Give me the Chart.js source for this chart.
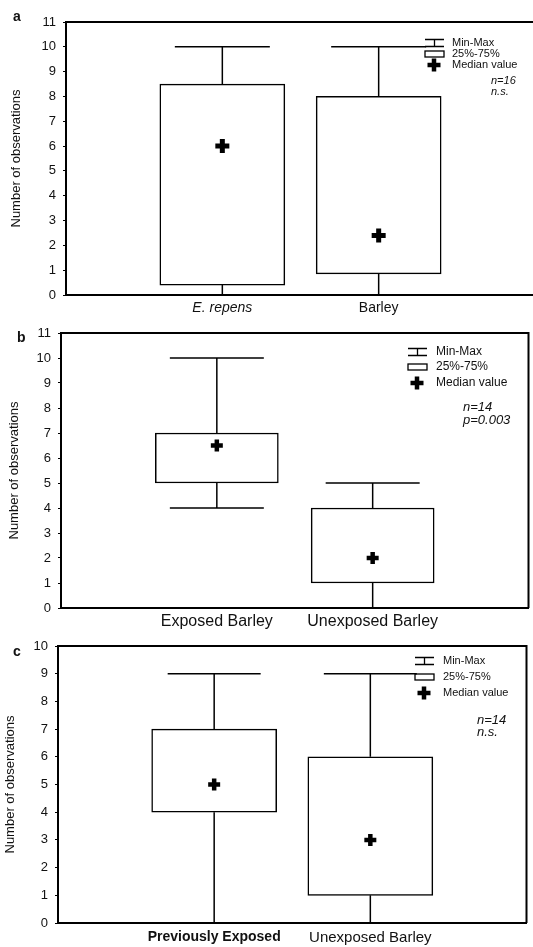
<!DOCTYPE html>
<html>
<head>
<meta charset="utf-8">
<script src="https://cdn.jsdelivr.net/npm/chart.js@4.4.0/dist/chart.umd.min.js"></script>
<style>
html, body { margin: 0; padding: 0; background: #fff; overflow: hidden; width: 533px; height: 947px; }
canvas { position: absolute; left: 0; }
</style>
</head>
<body>
<canvas id="ca" width="547" height="320" style="top:0px"></canvas>
<canvas id="cb" width="539" height="320" style="top:310px"></canvas>
<canvas id="cc" width="537" height="317" style="top:630px"></canvas>
<script>
// panel a
var catsA = ['E. repens', 'Barley']
var minA = [0, 0], q1A = [0.4, 0.85], medA = [6, 2.4], q3A = [8.5, 8], maxA = [10, 10]
var yMaxA = 11
var statsA = ['n=16', 'n.s.']
// panel b
var catsB = ['Exposed Barley', 'Unexposed Barley']
var minB = [4, 0], q1B = [5, 1], medB = [6.5, 2], q3B = [7, 4], maxB = [10, 5]
var yMaxB = 11
var statsB = ['n=14', 'p=0.003']
// panel c
var catsC = ['Previously Exposed', 'Unexposed Barley']
var minC = [0, 0], q1C = [4, 1], medC = [5, 3], q3C = [7, 6], maxC = [9, 9]
var yMaxC = 10
var statsC = ['n=14', 'n.s.']

var legendLabels = ['Min-Max', '25%-75%', 'Median value']
var yTitle = 'Number of observations'
var FONT = "'Liberation Sans', Arial, sans-serif"

// whiskers, frame, legend and panel letter
var boxExtras = {
  id: 'boxExtras',
  afterDatasetsDraw(chart) {
    var o = chart.options.plugins.boxExtras
    var ctx = chart.ctx, x = chart.scales.x, y = chart.scales.y, a = chart.chartArea
    ctx.save()
    ctx.strokeStyle = '#000'
    ctx.lineWidth = 1.5
    for (var i = 0; i < o.min.length; i++) {
      var xp = x.getPixelForValue(i + 1)
      var h = o.cap / 2
      ctx.beginPath()
      ctx.moveTo(xp, y.getPixelForValue(o.min[i])); ctx.lineTo(xp, y.getPixelForValue(o.q1[i]))
      ctx.moveTo(xp, y.getPixelForValue(o.q3[i])); ctx.lineTo(xp, y.getPixelForValue(o.max[i]))
      ctx.moveTo(xp - h, y.getPixelForValue(o.max[i])); ctx.lineTo(xp + h, y.getPixelForValue(o.max[i]))
      ctx.moveTo(xp - h, y.getPixelForValue(o.min[i])); ctx.lineTo(xp + h, y.getPixelForValue(o.min[i]))
      ctx.stroke()
    }
    // top and right border of the frame
    ctx.lineWidth = 2
    ctx.beginPath()
    ctx.moveTo(a.left, a.top); ctx.lineTo(a.right, a.top); ctx.lineTo(a.right, a.bottom)
    ctx.stroke()

    // legend
    var L = o.legend
    ctx.lineWidth = 1.3
    var r = L.rows
    ctx.beginPath()
    ctx.moveTo(L.ix, r[0] - 3.5); ctx.lineTo(L.ix + 19, r[0] - 3.5)
    ctx.moveTo(L.ix, r[0] + 3.5); ctx.lineTo(L.ix + 19, r[0] + 3.5)
    ctx.moveTo(L.ix + 9.5, r[0] - 3.5); ctx.lineTo(L.ix + 9.5, r[0] + 3.5)
    ctx.stroke()
    ctx.strokeRect(L.ix, r[1] - 3, 19, 6)
    ctx.lineWidth = 4.5
    ctx.beginPath()
    ctx.moveTo(L.px - 6.5, r[2]); ctx.lineTo(L.px + 6.5, r[2])
    ctx.moveTo(L.px, r[2] - 6.5); ctx.lineTo(L.px, r[2] + 6.5)
    ctx.stroke()
    ctx.fillStyle = '#111'
    ctx.textBaseline = 'middle'
    ctx.textAlign = 'left'
    ctx.font = L.size + 'px ' + FONT
    legendLabels.forEach(function (t, k) { ctx.fillText(t, L.tx, r[k]) })
    ctx.font = 'italic ' + L.ssize + 'px ' + FONT
    o.stats.forEach(function (t, k) { ctx.fillText(t, L.sx, L.sy[k]) })
    ctx.font = 'bold 14px ' + FONT
    ctx.fillText(o.letter[0], o.letter[1], o.letter[2])
    ctx.restore()
  }
}

function boxChart(id, cats, mins, q1, med, q3, maxs, yMax, stats, g) {
  var boxes = cats.map(function (c, i) { return { x: i + 1, y: [q1[i], q3[i]] } })
  var medians = cats.map(function (c, i) { return { x: i + 1, y: med[i] } })
  return new Chart(document.getElementById(id), {
    type: 'bar',
    data: {
      datasets: [{
        order: 2,
        data: boxes,
        backgroundColor: '#fff',
        borderColor: '#000',
        borderWidth: 1.5,
        borderSkipped: false,
        barThickness: g.box
      }, {
        order: 1,
        type: 'scatter',
        data: medians,
        pointStyle: 'cross',
        radius: g.plus,
        borderWidth: g.plusW,
        borderColor: '#000',
        backgroundColor: '#000'
      }]
    },
    options: {
      responsive: false,
      animation: false,
      devicePixelRatio: 1,
      events: [],
      layout: { padding: { top: g.top, right: 0, left: 0, bottom: 0 } },
      plugins: {
        legend: { display: false },
        tooltip: { enabled: false },
        boxExtras: {
          min: mins, q1: q1, q3: q3, max: maxs, cap: g.cap,
          stats: stats, legend: g.legend, letter: g.letter
        }
      },
      scales: {
        x: {
          type: 'linear',
          min: 0,
          max: 3,
          offset: false,
          afterBuildTicks: function (s) { s.ticks = cats.map(function (c, i) { return { value: i + 1 } }) },
          afterFit: function (s) { s.height = g.xh },
          grid: { display: false, drawTicks: false, offset: false },
          border: { display: true, color: '#000', width: 2 },
          ticks: {
            autoSkip: false,
            maxRotation: 0,
            padding: g.xpad,
            color: '#111',
            font: function (c) { return g.xfont[c.index] || g.xfont[0] },
            callback: function (v) { return cats[v - 1] }
          }
        },
        y: {
          min: 0,
          max: yMax,
          afterFit: function (s) { s.width = g.yw },
          grid: { display: true, drawOnChartArea: false, tickLength: 3, color: '#000', lineWidth: 1 },
          border: { display: true, color: '#000', width: 2 },
          ticks: { stepSize: 1, padding: 7, color: '#111', font: { family: FONT, size: 13 } },
          title: {
            display: true, text: yTitle, color: '#111',
            font: { family: FONT, size: 13 }, padding: { top: g.tpad, bottom: 0 }
          }
        }
      }
    },
    plugins: [boxExtras]
  })
}

boxChart('ca', catsA, minA, q1A, medA, q3A, maxA, yMaxA, statsA, {
  top: 22, yw: 66, xh: 25, tpad: 9, xpad: 5, box: 125, cap: 95, plus: 7, plusW: 5,
  xfont: [{ family: FONT, size: 14, style: 'italic' }, { family: FONT, size: 14 }],
  legend: { ix: 425, tx: 452, px: 434, rows: [43, 54, 65], size: 11, sx: 491, sy: [81, 92], ssize: 11 },
  letter: ['a', 13, 17]
})
boxChart('cb', catsB, minB, q1B, medB, q3B, maxB, yMaxB, statsB, {
  top: 23, yw: 61, xh: 22, tpad: 7, xpad: 4, box: 123, cap: 94, plus: 6, plusW: 4.5,
  xfont: [{ family: FONT, size: 16 }, { family: FONT, size: 16 }],
  legend: { ix: 408, tx: 436, px: 417, rows: [42, 57, 73], size: 12, sx: 463, sy: [97, 110], ssize: 13 },
  letter: ['b', 17, 28]
})
boxChart('cc', catsC, minC, q1C, medC, q3C, maxC, yMaxC, statsC, {
  top: 16, yw: 58, xh: 24, tpad: 3, xpad: 6, box: 125, cap: 93, plus: 6, plusW: 4.5,
  xfont: [{ family: FONT, size: 14, weight: 'bold' }, { family: FONT, size: 15 }],
  legend: { ix: 415, tx: 443, px: 424, rows: [31, 47, 63], size: 11, sx: 477, sy: [90, 102], ssize: 13 },
  letter: ['c', 13, 22]
})
</script>
</body>
</html>
